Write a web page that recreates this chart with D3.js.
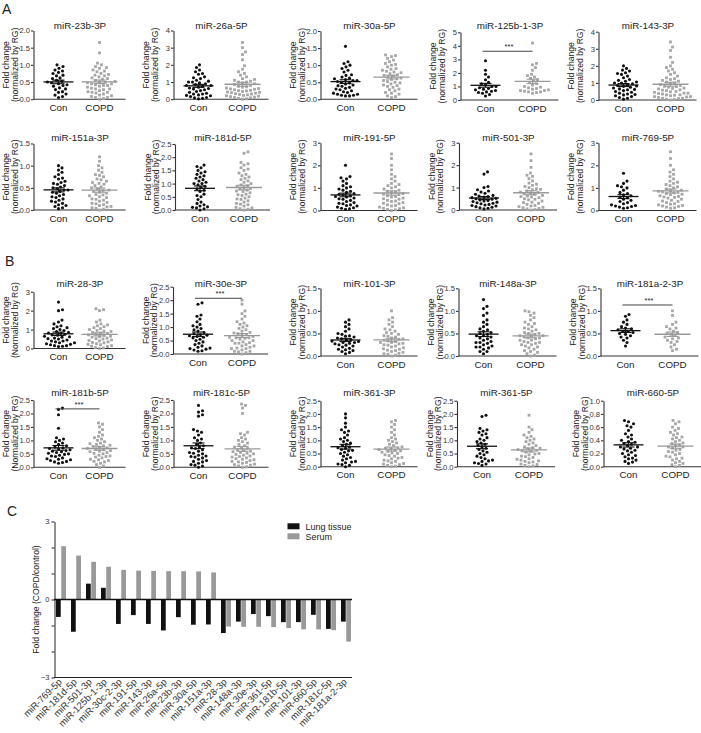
<!DOCTYPE html>
<html><head><meta charset="utf-8">
<script src="https://cdn.jsdelivr.net/npm/d3@7"></script>
<style>
body{margin:0;background:#fff}
svg{display:block}
text{font-family:"Liberation Sans",Arial,sans-serif}
</style>
</head><body>
<svg id="c" width="701" height="733"></svg>
<script>
// ---------------- DATA: panels A & B (fold change, normalized by RG) ----------------
const titles = ["miR-23b-3P","miR-26a-5P","miR-30a-5P","miR-125b-1-3P","miR-143-3P",
  "miR-151a-3P","miR-181d-5P","miR-191-5P","miR-501-3P","miR-769-5P",
  "miR-28-3P","miR-30e-3P","miR-101-3P","miR-148a-3P","miR-181a-2-3P",
  "miR-181b-5P","miR-181c-5P","miR-361-3P","miR-361-5P","miR-660-5P"];
const groupLabels = ["Con","COPD"];
const yMaxes = [2,4,2,5,4, 1.5,2.5,3,3,3, 3,2.5,1.5,1.5,1.5, 2.5,2.5,2.5,2.5,1.0];
const yTickSteps = [0.5,1,0.5,1,1, 0.5,0.5,1,1,1, 1,0.5,0.5,0.5,0.5, 0.5,0.5,0.5,0.5,0.2];
const yLabelLine2 = ["(normalized by RG)","(Normalized by RG)"];
const capitalN = ["miR-28-3P","miR-181b-5P"];
const sigPlots = ["miR-125b-1-3P","miR-30e-3P","miR-181a-2-3P","miR-181b-5P"];
const sigLevels = [3.6, 2.07, 1.13, 2.17];

const con23b = [0.05,0.08,0.12,0.15,0.2,0.22,0.28,0.3,0.33,0.38,0.4,0.42,0.45,0.48,0.5,0.52,0.55,0.6,0.62,0.68,0.7,0.75,0.78,0.82,0.85,0.9,0.95,1.0];
const copd23b = [0.0,0.02,0.05,0.05,0.08,0.1,0.12,0.15,0.18,0.2,0.2,0.22,0.25,0.28,0.3,0.3,0.32,0.35,0.38,0.4,0.4,0.42,0.45,0.45,0.48,0.5,0.5,0.52,0.55,0.58,0.6,0.62,0.65,0.68,0.7,0.72,0.75,0.8,0.82,0.85,0.9,0.92,0.95,1.0,1.05,1.35,1.65];
const con26a = [0.02,0.05,0.08,0.1,0.15,0.2,0.22,0.25,0.3,0.3,0.35,0.4,0.45,0.5,0.55,0.6,0.62,0.65,0.7,0.75,0.8,0.8,0.85,0.9,0.95,1.0,1.0,1.05,1.1,1.2,1.25,1.3,1.45,1.5,1.6,1.7,1.85,2.0];
const copd26a = [0,0.02,0.05,0.08,0.1,0.12,0.15,0.18,0.2,0.22,0.25,0.28,0.3,0.32,0.35,0.38,0.4,0.42,0.45,0.48,0.5,0.52,0.55,0.58,0.6,0.62,0.65,0.7,0.72,0.75,0.8,0.85,0.9,0.95,1.0,1.0,1.05,1.1,1.15,1.2,1.3,1.4,1.5,1.6,1.75,1.95,2.3,2.6,2.75,3.0,3.3];
const con30a = [0.1,0.1,0.12,0.12,0.15,0.15,0.18,0.2,0.22,0.25,0.28,0.3,0.32,0.35,0.38,0.4,0.42,0.45,0.48,0.5,0.52,0.55,0.55,0.58,0.6,0.62,0.65,0.7,0.72,0.8,0.85,0.9,0.95,1.0,1.05,1.1,1.55];
const copd30a = [0.05,0.08,0.1,0.15,0.18,0.2,0.25,0.28,0.3,0.35,0.38,0.4,0.42,0.45,0.48,0.5,0.52,0.55,0.58,0.6,0.62,0.65,0.68,0.7,0.72,0.75,0.78,0.8,0.82,0.85,0.88,0.9,0.95,1.0,1.02,1.05,1.1,1.15,1.2,1.25,1.28,1.3];
const con125b = [0.3,0.4,0.5,0.55,0.6,0.65,0.7,0.75,0.8,0.85,0.9,1.0,1.0,1.1,1.2,1.3,1.5,1.7,1.9,2.2,2.9];
const copd125b = [0.5,0.55,0.6,0.6,0.65,0.7,0.7,0.75,0.8,0.85,0.9,0.95,1.0,1.1,1.2,1.3,1.4,1.5,1.6,1.7,1.8,1.9,2.2,2.4,2.6,2.7,4.2];
const con143 = [0.05,0.1,0.15,0.2,0.25,0.3,0.32,0.35,0.4,0.45,0.5,0.55,0.6,0.62,0.65,0.7,0.75,0.8,0.82,0.85,0.9,0.95,1.0,1.0,1.05,1.1,1.15,1.2,1.3,1.4,1.5,1.55,1.6,1.7,1.75,1.85,2.0];
const copd143 = [0,0.03,0.05,0.08,0.1,0.1,0.15,0.18,0.2,0.2,0.25,0.28,0.3,0.3,0.35,0.38,0.4,0.4,0.45,0.48,0.5,0.55,0.58,0.6,0.65,0.68,0.7,0.75,0.78,0.8,0.85,0.9,0.95,1.0,1.05,1.1,1.15,1.2,1.25,1.3,1.4,1.5,1.6,1.7,1.8,1.9,2.0,2.2,2.5,2.9,3.1,3.4];
const con151a = [0.03,0.05,0.08,0.1,0.12,0.15,0.18,0.2,0.22,0.25,0.28,0.3,0.32,0.35,0.38,0.4,0.42,0.45,0.45,0.48,0.5,0.52,0.55,0.58,0.6,0.62,0.65,0.7,0.72,0.75,0.8,0.85,0.9,0.95,1.0];
const copd151a = [0,0.02,0.04,0.05,0.07,0.08,0.1,0.12,0.14,0.15,0.17,0.2,0.22,0.24,0.25,0.28,0.3,0.32,0.34,0.35,0.38,0.4,0.42,0.44,0.45,0.48,0.5,0.52,0.55,0.58,0.6,0.62,0.65,0.68,0.7,0.75,0.78,0.8,0.85,0.9,0.95,1.0,1.1,1.2];
const con181d = [0.0,0.05,0.08,0.1,0.12,0.15,0.2,0.25,0.3,0.4,0.5,0.55,0.6,0.7,0.75,0.8,0.85,0.9,0.95,1.0,1.0,1.05,1.1,1.15,1.2,1.25,1.3,1.35,1.4,1.45,1.5,1.6,1.65,1.7];
const copd181d = [0,0.03,0.05,0.08,0.1,0.15,0.2,0.22,0.25,0.3,0.35,0.4,0.42,0.45,0.5,0.55,0.58,0.6,0.65,0.7,0.72,0.75,0.8,0.82,0.85,0.9,0.92,0.95,1.0,1.05,1.1,1.15,1.2,1.25,1.3,1.35,1.4,1.5,1.55,1.6,1.7,1.75,1.8,2.15,2.2];
const con191 = [0.05,0.08,0.1,0.12,0.15,0.2,0.22,0.25,0.3,0.32,0.35,0.4,0.45,0.5,0.52,0.55,0.6,0.62,0.65,0.7,0.72,0.75,0.8,0.85,0.9,0.95,1.0,1.05,1.1,1.2,1.3,1.4,1.45,1.5,2.0];
const copd191 = [0,0.03,0.05,0.08,0.1,0.12,0.15,0.2,0.22,0.25,0.3,0.32,0.35,0.4,0.42,0.45,0.5,0.52,0.55,0.6,0.62,0.65,0.7,0.72,0.75,0.8,0.82,0.85,0.9,0.95,1.0,1.05,1.1,1.15,1.2,1.3,1.4,1.5,1.6,1.8,2.0,2.3,2.5];
const con501 = [0.05,0.08,0.1,0.12,0.15,0.18,0.2,0.22,0.25,0.28,0.3,0.32,0.35,0.38,0.4,0.42,0.45,0.48,0.5,0.52,0.55,0.58,0.6,0.62,0.65,0.7,0.75,0.8,0.85,0.9,1.0,1.05,1.6,1.7];
const copd501 = [0,0.02,0.05,0.07,0.1,0.12,0.15,0.18,0.2,0.25,0.3,0.33,0.35,0.4,0.45,0.48,0.5,0.55,0.58,0.6,0.62,0.65,0.7,0.72,0.75,0.78,0.8,0.85,0.9,0.92,0.95,1.0,1.05,1.1,1.15,1.2,1.3,1.4,1.5,1.55,1.65,1.9,2.2,2.5];
const con769 = [0.1,0.12,0.15,0.18,0.2,0.22,0.25,0.3,0.35,0.4,0.45,0.5,0.55,0.6,0.65,0.7,0.75,0.8,0.9,1.0,1.05,1.1,1.2,1.3,1.65];
const copd769 = [0.1,0.12,0.15,0.18,0.2,0.22,0.25,0.28,0.3,0.35,0.4,0.42,0.45,0.5,0.55,0.58,0.6,0.62,0.65,0.7,0.72,0.75,0.78,0.8,0.82,0.85,0.88,0.9,0.95,1.0,1.05,1.1,1.15,1.2,1.25,1.3,1.4,1.5,1.6,1.7,1.8,2.0,2.3,2.6];
const con28 = [0.1,0.12,0.15,0.15,0.2,0.22,0.25,0.3,0.3,0.35,0.4,0.4,0.45,0.5,0.52,0.55,0.6,0.62,0.65,0.7,0.72,0.75,0.8,0.82,0.85,0.9,0.95,1.0,1.05,1.1,1.15,1.2,1.3,1.4,1.5,2.0,2.05,2.45];
const copd28 = [0,0.03,0.05,0.1,0.12,0.15,0.2,0.22,0.25,0.3,0.32,0.35,0.4,0.42,0.45,0.5,0.52,0.55,0.6,0.62,0.65,0.7,0.72,0.75,0.8,0.82,0.85,0.9,0.92,0.95,1.0,1.05,1.1,1.15,1.2,1.25,1.3,1.4,1.5,2.0,2.05,2.1];
const con30e = [0.1,0.12,0.15,0.18,0.2,0.22,0.25,0.3,0.35,0.4,0.45,0.5,0.55,0.6,0.62,0.65,0.68,0.7,0.72,0.75,0.8,0.85,0.9,0.95,1.0,1.05,1.1,1.2,1.3,1.4,1.45,1.85,1.9];
const copd30e = [0,0.05,0.08,0.1,0.1,0.15,0.2,0.2,0.22,0.25,0.3,0.3,0.35,0.4,0.4,0.42,0.45,0.5,0.5,0.55,0.58,0.6,0.6,0.62,0.65,0.7,0.72,0.75,0.78,0.8,0.85,0.9,0.95,1.0,1.05,1.1,1.15,1.2,1.3,1.4,1.5,1.6,1.85,2.0];
const con101 = [0.05,0.08,0.1,0.12,0.14,0.15,0.17,0.2,0.22,0.24,0.25,0.27,0.28,0.3,0.3,0.32,0.33,0.35,0.36,0.38,0.4,0.42,0.44,0.45,0.48,0.5,0.55,0.6,0.65,0.7,0.75,0.8];
const copd101 = [0,0.02,0.04,0.05,0.06,0.08,0.1,0.12,0.13,0.15,0.16,0.18,0.2,0.22,0.24,0.25,0.27,0.28,0.3,0.3,0.32,0.34,0.35,0.37,0.38,0.4,0.42,0.44,0.45,0.48,0.5,0.52,0.55,0.58,0.6,0.65,0.7,0.75,0.8,0.85,1.0];
const con148a = [0.05,0.1,0.1,0.15,0.18,0.2,0.2,0.22,0.25,0.28,0.3,0.3,0.32,0.35,0.38,0.4,0.42,0.45,0.45,0.48,0.5,0.52,0.55,0.58,0.6,0.65,0.7,0.75,0.8,0.9,0.95,1.05,1.1,1.25];
const copd148a = [0,0.02,0.05,0.08,0.1,0.12,0.15,0.18,0.2,0.22,0.25,0.25,0.28,0.3,0.3,0.32,0.35,0.35,0.38,0.4,0.4,0.42,0.44,0.45,0.45,0.48,0.5,0.5,0.52,0.55,0.58,0.6,0.62,0.65,0.7,0.72,0.75,0.8,0.85,0.9,0.95,0.98,1.0];
const con181a2 = [0.22,0.3,0.35,0.4,0.42,0.45,0.48,0.5,0.52,0.55,0.55,0.58,0.6,0.62,0.65,0.7,0.75,0.8,0.88,0.92];
const copd181a2 = [0.12,0.15,0.2,0.25,0.3,0.32,0.35,0.38,0.4,0.42,0.45,0.48,0.5,0.52,0.55,0.6,0.62,0.65,0.7,0.75,0.9,1.0];
const con181b = [0.15,0.18,0.2,0.22,0.25,0.28,0.3,0.32,0.35,0.4,0.42,0.45,0.48,0.5,0.52,0.55,0.58,0.6,0.62,0.65,0.68,0.7,0.72,0.75,0.8,0.85,0.9,0.95,1.0,1.05,1.1,1.45,1.95,2.15,2.2];
const copd181b = [0,0.05,0.1,0.15,0.2,0.22,0.25,0.28,0.3,0.35,0.38,0.4,0.42,0.45,0.5,0.52,0.55,0.58,0.6,0.62,0.65,0.68,0.7,0.72,0.75,0.78,0.8,0.82,0.85,0.88,0.9,0.95,1.0,1.05,1.1,1.15,1.2,1.3,1.4,1.5,1.6,1.65];
const con181c = [0,0.05,0.08,0.1,0.15,0.2,0.22,0.25,0.3,0.35,0.38,0.4,0.42,0.45,0.5,0.52,0.55,0.6,0.65,0.7,0.72,0.75,0.8,0.85,0.9,1.0,1.05,1.1,1.2,1.3,1.35,1.4,1.9,1.95,2.05,2.1,2.3];
const copd181c = [0,0.02,0.05,0.08,0.1,0.12,0.15,0.18,0.2,0.22,0.25,0.28,0.3,0.32,0.35,0.38,0.4,0.42,0.45,0.48,0.5,0.52,0.55,0.58,0.6,0.62,0.65,0.7,0.72,0.75,0.8,0.85,0.9,0.95,1.0,1.05,1.1,1.2,1.25,1.3,2.0,2.2,2.3,2.35];
const con361_3 = [0,0.05,0.08,0.1,0.15,0.18,0.2,0.25,0.3,0.35,0.4,0.45,0.5,0.55,0.6,0.62,0.65,0.7,0.72,0.75,0.8,0.85,0.9,0.95,1.0,1.05,1.1,1.2,1.3,1.35,1.4,1.5,1.65,1.85,2.0];
const copd361_3 = [0,0.02,0.05,0.08,0.1,0.12,0.15,0.2,0.22,0.25,0.3,0.32,0.35,0.4,0.42,0.45,0.5,0.52,0.55,0.58,0.6,0.62,0.65,0.68,0.7,0.72,0.75,0.8,0.85,0.9,0.95,1.0,1.05,1.1,1.2,1.3,1.4,1.5,1.6,1.7,1.75];
const con361_5 = [0.05,0.1,0.12,0.15,0.2,0.22,0.25,0.3,0.35,0.4,0.45,0.5,0.55,0.6,0.65,0.7,0.75,0.8,0.85,0.9,0.95,1.0,1.05,1.1,1.2,1.25,1.3,1.35,1.4,1.45,1.9,1.95];
const copd361_5 = [0,0.03,0.05,0.08,0.1,0.15,0.18,0.2,0.22,0.25,0.28,0.3,0.35,0.38,0.4,0.45,0.48,0.5,0.55,0.58,0.6,0.62,0.65,0.68,0.7,0.72,0.75,0.8,0.85,0.9,0.95,1.0,1.05,1.1,1.15,1.2,1.3,1.4,1.5,1.95];
const con660 = [0.05,0.07,0.08,0.1,0.12,0.13,0.15,0.17,0.18,0.2,0.22,0.24,0.25,0.27,0.28,0.3,0.3,0.32,0.34,0.35,0.37,0.38,0.4,0.42,0.45,0.48,0.5,0.55,0.6,0.62,0.65,0.68,0.7];
const copd660 = [0,0.02,0.03,0.05,0.06,0.08,0.1,0.12,0.13,0.15,0.16,0.18,0.2,0.22,0.23,0.25,0.26,0.28,0.3,0.3,0.32,0.33,0.35,0.36,0.38,0.4,0.42,0.44,0.45,0.48,0.5,0.52,0.55,0.58,0.6,0.65,0.68,0.7];

const conSeries = [con23b,con26a,con30a,con125b,con143, con151a,con181d,con191,con501,con769,
  con28,con30e,con101,con148a,con181a2, con181b,con181c,con361_3,con361_5,con660];
const copdSeries = [copd23b,copd26a,copd30a,copd125b,copd143, copd151a,copd181d,copd191,copd501,copd769,
  copd28,copd30e,copd101,copd148a,copd181a2, copd181b,copd181c,copd361_3,copd361_5,copd660];

// ---------------- DATA: panel C ----------------
const cCategories = ["miR-769-5p","miR-181d-5p","miR-501-3p","miR-125b-1-3p","miR-30c-2-3p","miR-191-5p",
  "miR-143-3p","miR-26a-5p","miR-23b-3p","miR-30a-5p","miR-151a-3p","miR-28-3p","miR-148a-3p",
  "miR-30e-3p","miR-361-5p","miR-181b-5p","miR-101-3p","miR-660-5p","miR-181c-5p","miR-181a-2-3p"];
const lungTissue = [-0.67,-1.24,0.61,0.45,-0.94,-0.6,-0.94,-1.19,-0.68,-0.97,-0.96,-1.29,-0.85,-0.56,-0.64,-0.87,-0.87,-0.59,-1.13,-0.85];
const serum = [2.05,1.69,1.45,1.26,1.14,1.11,1.10,1.09,1.09,1.08,1.04,-1.04,-1.05,-1.05,-1.06,-1.10,-1.15,-1.15,-1.18,-1.62];
const cSeriesNames = ["Lung tissue","Serum"];
const cYTicks = [-3,-2,-1,0,1,2,3];
const cYLabelled = [3,0,-3];

// ---------------- LAYOUT ----------------
const plotX0 = [33.5,173.5,320.5,460.5,598.5, 33.5,175,320.5,459,598.5, 33.5,173,320.5,458.5,600.5, 33.5,173.5,320.5,457,603.5];
const plotTop = [30.5,30.5,31,32.3,31.7, 143.5,144,142.7,142.7,142.7, 291.7,286.7,288.3,288.3,288.3, 400,400,400.7,400.7,400.7];
const plotBottom = [99.2,99.2,99.3,100,100, 210,210,210.5,210,210.5, 348.5,354,356,356,356, 467.3,467.3,466.7,466.7,466.7];
const rowTitleY = [28.5,140.5,287,396];
const colCopdOff = [66,69,71,72,72];
const conOff = 25;

const BLACK = "#111", GREY = "#a6a6a6", AXIS = "#333";
const svg = d3.select("#c");

function swarm(vals, y, r) {
  const pts = vals.map(v => ({v, y: y(v)})).sort((a,b) => b.y - a.y);
  const placed = [];
  const d2 = (2*r) * (2*r);
  for (const p of pts) {
    let off = 0;
    for (let k = 0; k < 400; k++) {
      const o = (k % 2 ? 1 : -1) * Math.ceil(k/2) * 0.5;
      if (placed.every(q => (q.x - o)**2 + (q.y - p.y)**2 >= d2)) { off = o; break; }
    }
    p.x = off; placed.push(p);
  }
  return pts;
}

titles.forEach((t, i) => {
  const col = i % 5, row = Math.floor(i / 5);
  const x0 = plotX0[i], top = plotTop[i], bot = plotBottom[i];
  const copdOff = colCopdOff[col];
  const g = svg.append("g");
  const y = d3.scaleLinear().domain([0, yMaxes[i]]).range([bot, top]);
  const xg = d3.scaleOrdinal().domain(groupLabels).range([x0 + conOff, x0 + copdOff]);
  const step = yTickSteps[i];
  const ticks = d3.range(0, yMaxes[i] + 1e-9, step);
  const ax = g.append("g").attr("transform", `translate(${x0},0)`)
    .call(d3.axisLeft(y).tickValues(ticks).tickFormat(step < 1 ? d3.format(".1f") : d3.format("d"))
      .tickSize(2.5).tickSizeOuter(0).tickPadding(1));
  ax.selectAll("path,line").attr("stroke", AXIS).attr("stroke-width", 1.1);
  ax.selectAll("text").attr("font-size", 7.6).attr("fill", "#333").attr("font-family", "Liberation Sans, Arial, sans-serif");
  // x axis
  g.append("line").attr("x1", x0).attr("x2", x0 + copdOff + 26).attr("y1", bot).attr("y2", bot)
    .attr("stroke", AXIS).attr("stroke-width", 1.1);
  groupLabels.forEach(gl => {
    g.append("text").attr("x", xg(gl)).attr("y", bot + 11.5).attr("text-anchor", "middle")
      .attr("font-size", 9.8).attr("fill", "#222").text(gl);
  });
  // title
  g.append("text").attr("x", (xg("Con") + xg("COPD")) / 2 + 1).attr("y", rowTitleY[row])
    .attr("text-anchor", "middle").attr("font-size", 9.8).attr("fill", "#222").text(t);
  // y label
  const mid = (top + bot) / 2;
  g.append("text").attr("transform", `translate(${x0 - 24.5},${mid}) rotate(-90)`).attr("text-anchor", "middle")
    .attr("font-size", 8.6).attr("fill", "#222").text("Fold change");
  g.append("text").attr("transform", `translate(${x0 - 15.8},${mid}) rotate(-90)`).attr("text-anchor", "middle")
    .attr("font-size", 8.6).attr("fill", "#222").text(capitalN.includes(t) ? yLabelLine2[1] : yLabelLine2[0]);
  // dots
  const sets = [[conSeries[i], "Con"], [copdSeries[i], "COPD"]];
  sets.forEach(([vals, gl]) => {
    const cx = xg(gl);
    const pts = swarm(vals, y, 1.95);
    if (gl === "Con") {
      g.selectAll(null).data(pts).enter().append("circle")
        .attr("cx", d => cx + d.x).attr("cy", d => d.y).attr("r", 1.55).attr("fill", BLACK);
    } else {
      g.selectAll(null).data(pts).enter().append("rect")
        .attr("x", d => cx + d.x - 1.4).attr("y", d => d.y - 1.4).attr("width", 2.8).attr("height", 2.8).attr("fill", GREY);
    }
    const m = d3.mean(vals), se = d3.deviation(vals) / Math.sqrt(vals.length);
    const col2 = gl === "Con" ? BLACK : "#999";
    const hw = gl === "Con" ? 15 : 18;
    g.append("line").attr("x1", cx - hw).attr("x2", cx + hw).attr("y1", y(m)).attr("y2", y(m))
      .attr("stroke", col2).attr("stroke-width", 1.3);
    g.append("line").attr("x1", cx).attr("x2", cx).attr("y1", y(m - se)).attr("y2", y(m + se))
      .attr("stroke", col2).attr("stroke-width", 1.1);
    [m - se, m + se].forEach(v => g.append("line").attr("x1", cx - 6).attr("x2", cx + 6)
      .attr("y1", y(v)).attr("y2", y(v)).attr("stroke", col2).attr("stroke-width", 1.1));
  });
  // significance
  const si = sigPlots.indexOf(t);
  if (si >= 0) {
    const yy = y(sigLevels[si]);
    g.append("line").attr("x1", xg("Con") - 3).attr("x2", xg("COPD")).attr("y1", yy).attr("y2", yy)
      .attr("stroke", "#444").attr("stroke-width", 1);
    g.append("text").attr("x", (xg("Con") + xg("COPD")) / 2).attr("y", yy - 2).attr("text-anchor", "middle")
      .attr("font-size", 7.5).attr("fill", "#222").text("***");
  }
});

// panel letters
[["A", 2, 13.5], ["B", 5, 265.5], ["C", 7, 516]].forEach(([l, x, yy]) =>
  svg.append("text").attr("x", x).attr("y", yy).attr("font-size", 14).attr("fill", "#222").text(l));

// ---------------- PANEL C ----------------
const gc = svg.append("g");
const yC = d3.scaleLinear().domain([-3, 3]).range([677.5, 521.5]);
const xC = d3.scaleBand().domain(cCategories).range([54, 354]).paddingInner(0);
const xSub = d3.scaleBand().domain(cSeriesNames).range([2, 12]).paddingInner(0.1);
const cColors = d3.scaleOrdinal().domain(cSeriesNames).range(["#111", "#999"]);
const cVals = [lungTissue, serum];

cSeriesNames.forEach((s, si) => {
  gc.selectAll(null).data(cCategories).enter().append("rect")
    .attr("x", d => xC(d) + xSub(s))
    .attr("width", xSub.bandwidth())
    .attr("y", (d, k) => yC(Math.max(0, cVals[si][k])))
    .attr("height", (d, k) => Math.abs(yC(cVals[si][k]) - yC(0)))
    .attr("fill", cColors(s));
});
const axC = gc.append("g").attr("transform", "translate(54.5,0)")
  .call(d3.axisLeft(yC).tickValues(cYTicks).tickSize(3).tickSizeOuter(0).tickPadding(2)
    .tickFormat(d => cYLabelled.includes(d) ? String(d).replace("-", "\u2212") : ""));
axC.selectAll("path,line").attr("stroke", "#222").attr("stroke-width", 1);
axC.selectAll("text").attr("font-size", 7.5).attr("fill", "#333").attr("font-family", "Liberation Sans, Arial, sans-serif");
gc.append("line").attr("x1", 54).attr("x2", 352).attr("y1", yC(0)).attr("y2", yC(0)).attr("stroke", "#111").attr("stroke-width", 1.4);
gc.append("line").attr("x1", 54).attr("x2", 352).attr("y1", yC(-3)).attr("y2", yC(-3)).attr("stroke", "#222").attr("stroke-width", 1);
gc.append("text").attr("transform", `translate(39,${yC(0)}) rotate(-90)`).attr("text-anchor", "middle")
  .attr("font-size", 8.6).attr("fill", "#222").text("Fold change (COPD/control)");
gc.selectAll(null).data(cCategories).enter().append("text")
  .attr("transform", d => `translate(${xC(d) + xC.bandwidth() / 2 + 1},${yC(-3) + 5}) rotate(-45)`)
  .attr("text-anchor", "end").attr("font-size", 9.5).attr("fill", "#333").text(d => d);
// legend
cSeriesNames.forEach((s, k) => {
  gc.append("rect").attr("x", 287.5).attr("y", 523.3 + k * 10).attr("width", 12).attr("height", 6).attr("fill", cColors(s));
  gc.append("text").attr("x", 305.5).attr("y", 529.8 + k * 10).attr("font-size", 9).attr("fill", "#222").text(s);
});
</script>
</body></html>
